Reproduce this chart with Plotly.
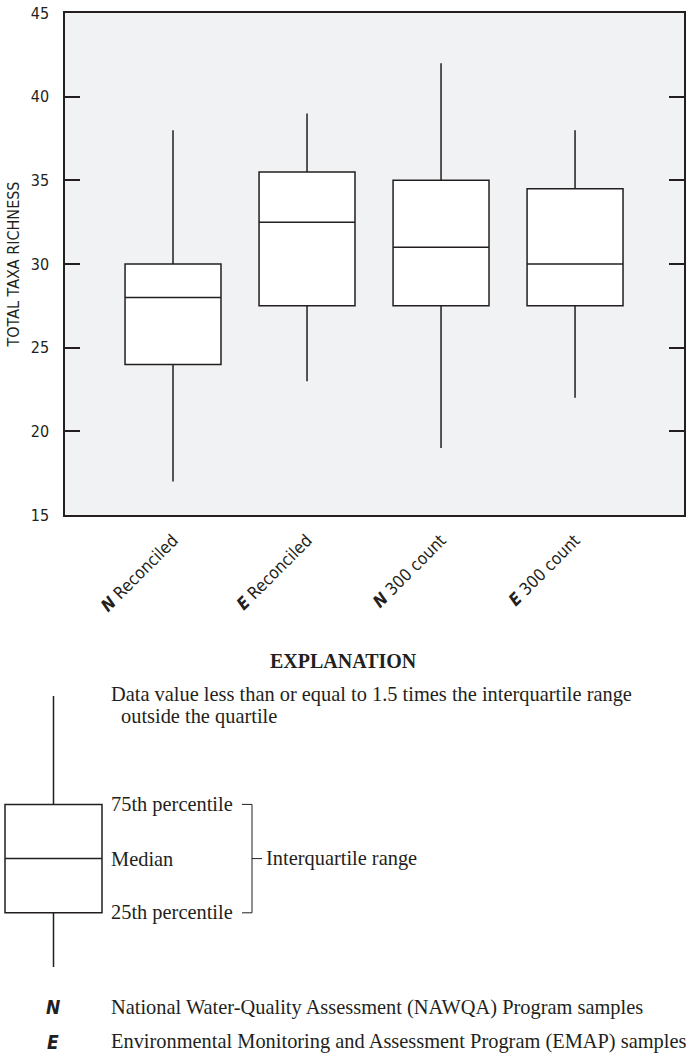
import plotly.graph_objects as go

# ---------------- data ----------------
categories = ["N Reconciled", "E Reconciled", "N 300 count", "E 300 count"]
tick_text = ["<b><i>N</i></b> Reconciled", "<b><i>E</i></b> Reconciled",
             "<b><i>N</i></b> 300 count", "<b><i>E</i></b> 300 count"]
x_pos = [0, 1, 2, 3]
lower_whisker = [17, 23, 19, 22]
q1_vals = [24, 27.5, 27.5, 27.5]
median_vals = [28, 32.5, 31, 30]
q3_vals = [30, 35.5, 35, 34.5]
upper_whisker = [38, 39, 42, 38]
y_ticks = [15, 20, 25, 30, 35, 40, 45]

# schematic (explanation) box, in schematic units
exp_lower = [0]
exp_q1 = [1]
exp_median = [2]
exp_q3 = [3]
exp_upper = [5]

INK = "#231f20"
SANS = "Liberation Sans Narrow, DejaVu Sans Condensed, Arial Narrow, sans-serif"
SERIF = "Liberation Serif, Times New Roman, serif"

W, H = 686, 1055

fig = go.Figure()

fig.add_trace(go.Box(
    x=x_pos, q1=q1_vals, median=median_vals, q3=q3_vals,
    lowerfence=lower_whisker, upperfence=upper_whisker,
    width=0.716, whiskerwidth=0, fillcolor="white",
    line=dict(color=INK, width=1.5), boxpoints=False,
    hoverinfo="skip", showlegend=False, xaxis="x", yaxis="y",
))

# explanation schematic box
fig.add_trace(go.Box(
    x=[53.5], q1=exp_q1, median=exp_median, q3=exp_q3,
    lowerfence=exp_lower, upperfence=exp_upper,
    width=97, whiskerwidth=0, fillcolor="white",
    line=dict(color=INK, width=1.5), boxpoints=False,
    hoverinfo="skip", showlegend=False, xaxis="x2", yaxis="y2",
))

# bracket for interquartile range
fig.add_trace(go.Scatter(
    x=[242, 252, 252, 242], y=[exp_q3[0], exp_q3[0], exp_q1[0], exp_q1[0]],
    mode="lines", line=dict(color=INK, width=1), hoverinfo="skip",
    showlegend=False, xaxis="x2", yaxis="y2",
))
fig.add_trace(go.Scatter(
    x=[252, 262], y=[exp_median[0], exp_median[0]],
    mode="lines", line=dict(color=INK, width=1), hoverinfo="skip",
    showlegend=False, xaxis="x2", yaxis="y2",
))

# domains from pixel layout
main_x_dom = [65 / W, 684 / W]
main_y_dom = [1 - 515 / H, 1 - 13 / H]
unit = 54.2
y2_lo, y2_hi = -1.5, 6.5
px_top = 967 - unit * y2_hi
px_bot = 967 - unit * y2_lo
exp_y_dom = [1 - px_bot / H, 1 - px_top / H]

fig.update_layout(
    width=W, height=H,
    margin=dict(l=0, r=0, t=0, b=0),
    paper_bgcolor="white",
    plot_bgcolor="white",
    shapes=[dict(type="rect", xref="x domain", yref="y domain",
                 x0=0, x1=1, y0=0, y1=1, fillcolor="#f1f2f4",
                 line=dict(width=0), layer="below")],
    xaxis=dict(
        domain=main_x_dom, range=[-0.806, 3.813],
        tickvals=x_pos, ticktext=tick_text, tickangle=-45,
        showline=True, linecolor=INK, linewidth=1.5, mirror=True,
        ticks="", showgrid=False, zeroline=False, automargin=False,
        ticklabelstandoff=7,
        tickfont=dict(family=SANS, size=17, color=INK), anchor="y",
    ),
    yaxis=dict(
        domain=main_y_dom, range=[15, 45], tickvals=y_ticks,
        showline=True, linecolor=INK, linewidth=1.5, mirror="allticks",
        ticks="inside", ticklen=15, tickwidth=1.5, tickcolor=INK,
        ticklabelstandoff=11,
        showgrid=False, zeroline=False, automargin=False,
        tickfont=dict(family=SANS, size=16, color=INK),
        title=dict(text="TOTAL TAXA RICHNESS", standoff=7,
                   font=dict(family=SANS, size=16, color=INK)),
        anchor="x",
    ),
    xaxis2=dict(domain=[0, 1], range=[0, W], visible=False, anchor="y2"),
    yaxis2=dict(domain=exp_y_dom, range=[y2_lo, y2_hi], visible=False, anchor="x2"),
)

ann = []
def txt(x, y, s, size=20.4, family=SERIF, xanchor="left"):
    ann.append(dict(x=x, y=y, xref="x2", yref="y2", text=s, showarrow=False,
                    xanchor=xanchor, yanchor="middle",
                    font=dict(family=family, size=size, color=INK)))

txt(343, 5.65, "<b>EXPLANATION</b>", size=20, xanchor="center")
txt(109, 5.02, "Data value less than or equal to 1.5 times the interquartile range")
txt(119, 4.63, "outside the quartile")
txt(109, exp_q3[0], "75th percentile")
txt(109, exp_median[0], "Median")
txt(109, exp_q1[0], "25th percentile")
txt(264, exp_median[0], "Interquartile range")
txt(53, -0.74, "<b><i>N</i></b>", size=19, family=SANS, xanchor="center")
txt(53, -1.38, "<b><i>E</i></b>", size=19, family=SANS, xanchor="center")
txt(109, -0.74, "National Water-Quality Assessment (NAWQA) Program samples")
txt(109, -1.38, "Environmental Monitoring and Assessment Program (EMAP) samples")

fig.update_layout(annotations=ann)

fig.write_html("out.html")
